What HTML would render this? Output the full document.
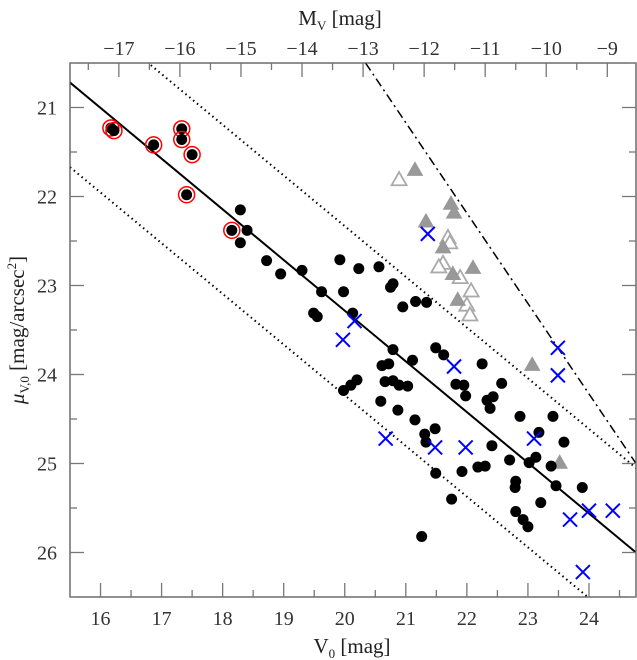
<!DOCTYPE html>
<html><head><meta charset="utf-8">
<style>
html,body{margin:0;padding:0;background:#fff;}
svg{display:block;font-family:"Liberation Serif",serif;}
</style></head>
<body>
<svg id="chart" width="637" height="660" viewBox="0 0 637 660" xmlns="http://www.w3.org/2000/svg">
<text x="340" y="25" font-size="21" text-anchor="middle" fill="#222">M<tspan font-size="13" dy="5">V</tspan><tspan dy="-5"> [mag]</tspan></text>
<text x="352" y="653" font-size="21" text-anchor="middle" fill="#222">V<tspan font-size="13" dy="5">0</tspan><tspan dy="-5"> [mag]</tspan></text>
<text transform="translate(24,330) rotate(-90)" font-size="21" text-anchor="middle" fill="#222"><tspan font-style="italic">μ</tspan><tspan font-size="13" dy="5">V,0</tspan><tspan dy="-5"> [mag/arcsec</tspan><tspan font-size="13" dy="-8">2</tspan><tspan dy="8">]</tspan></text>
</svg>
<script>
const xTicks=[16,17,18,19,20,21,22,23,24];
const yTicks=[21,22,23,24,25,26];
const topTicks=[-17,-16,-15,-14,-13,-12,-11,-10,-9];
const distMod=33.3;
const fitLine=[[15.5,20.72],[24.77,26.0]];
const dotOffset=0.95;
const dashLine=[[20.34,20.5],[24.77,25.0]];
const redV=[16.17,16.22,16.87,17.33,17.33,17.5,17.41,18.15];
const redMu=[21.23,21.26,21.42,21.24,21.36,21.53,21.98,22.38];
const dotV=[18.29,18.29,18.40,18.72,18.95,19.30,19.62,19.49,19.55,19.92,19.98,20.13,20.23,20.56,20.79,20.75,20.95,21.16,21.34,21.49,
20.79,21.62,21.11,20.61,20.72,20.20,20.10,19.98,20.66,20.79,20.89,21.03,20.59,20.87,21.15,21.48,21.31,21.33,22.25,21.82,21.95,21.98,22.33,22.43,22.38,22.57,22.87,23.41,23.18,23.59,22.41,22.70,23.13,23.02,23.38,22.18,22.30,21.92,21.49,22.80,22.79,23.46,23.89,23.21,21.75,22.80,22.92,23.00,21.26];
const dotMu=[22.15,22.52,22.38,22.72,22.87,22.83,23.07,23.31,23.35,22.71,23.07,23.31,22.81,22.79,22.98,23.02,23.24,23.18,23.19,23.70,
23.72,23.78,23.84,23.90,23.88,24.06,24.12,24.18,24.08,24.07,24.12,24.13,24.30,24.40,24.51,24.61,24.67,24.76,23.88,24.11,24.12,24.24,24.29,24.25,24.38,24.10,24.47,24.47,24.65,24.76,24.80,24.96,24.93,24.99,25.03,25.04,25.03,25.09,25.11,25.20,25.27,25.25,25.27,25.44,25.40,25.54,25.63,25.71,25.82];
const crossV=[21.36,20.16,19.97,21.79,23.49,23.49,20.67,21.48,21.98,23.10,23.69,24.0,24.39,23.90];
const crossMu=[22.42,23.40,23.61,23.91,23.70,24.01,24.72,24.82,24.82,24.72,25.63,25.53,25.53,26.22];
const openTriV=[20.89,21.69,21.72,21.61,21.54,21.89,22.07,22.0,22.05];
const openTriMu=[21.81,22.46,22.52,22.75,22.79,22.91,23.06,23.22,23.33];
const fillTriV=[21.15,21.74,21.79,21.33,21.61,21.77,22.1,21.85,23.07,23.52];
const fillTriMu=[21.70,22.08,22.18,22.28,22.57,22.87,22.8,23.16,23.89,24.99];

const NS="http://www.w3.org/2000/svg";
const svg=document.getElementById('chart');
const L=70,R=636,T=63,B=597,V0=15.5,V1=24.77,M0=20.5,M1=26.5;
function X(v){return L+(v-V0)/(V1-V0)*(R-L);}
function Y(m){return T+(m-M0)/(M1-M0)*(B-T);}
function mk(tag,attrs,parent){const e=document.createElementNS(NS,tag);for(const k in attrs)e.setAttribute(k,attrs[k]);(parent||svg).appendChild(e);return e;}

const clip=mk('clipPath',{id:'pc'});mk('rect',{x:L,y:T,width:R-L,height:B-T},clip);
const plot=mk('g',{'clip-path':'url(#pc)'});



function lineBy(p,off,attrs,name){const e=mk('line',Object.assign({x1:X(p[0][0]),y1:Y(p[0][1]+off),x2:X(p[1][0]),y2:Y(p[1][1]+off),fill:'none'},attrs),plot);

}
lineBy(fitLine,0,{stroke:'#000','stroke-width':2},'fit-line');
lineBy(fitLine,-dotOffset,{stroke:'#000','stroke-width':2,'stroke-dasharray':'1.5 3.5'},'upper-scatter-line');
lineBy(fitLine,dotOffset,{stroke:'#000','stroke-width':2,'stroke-dasharray':'1.5 3.5'},'lower-scatter-line');
{const s=(dashLine[1][1]-dashLine[0][1])/(dashLine[1][0]-dashLine[0][0]);
const e=mk('line',{x1:X(dashLine[0][0]),y1:Y(dashLine[0][1]),x2:X(dashLine[1][0]+0.3),y2:Y(dashLine[1][1]+0.3*s),stroke:'#000','stroke-width':1.5,'stroke-dasharray':'9 4 2 4'},plot);

}

function tri(v,m,filled){const x=X(v),y=Y(m),s=7.5;
const e=mk('polygon',{points:`${x},${y-s} ${x-s},${y+s*0.75} ${x+s},${y+s*0.75}`,fill:filled?'#999':'#fff',stroke:filled?'#999':'#aaa','stroke-width':filled?1:1.8},plot);

}
openTriV.forEach((v,i)=>tri(v,openTriMu[i],false));
fillTriV.forEach((v,i)=>tri(v,fillTriMu[i],true));
dotV.forEach((v,i)=>{const e=mk('circle',{cx:X(v),cy:Y(dotMu[i]),r:5.5,fill:'#000'},plot);

});
redV.forEach((v,i)=>{const e=mk('circle',{cx:X(v),cy:Y(redMu[i]),r:5.5,fill:'#000'},plot);


const r=mk('circle',{cx:X(v),cy:Y(redMu[i]),r:8,fill:'none',stroke:'#f00','stroke-width':1.5},plot);

});
crossV.forEach((v,i)=>{const x=X(v),y=Y(crossMu[i]),s=7;
const e=mk('path',{d:`M${x-s},${y-s}L${x+s},${y+s}M${x-s},${y+s}L${x+s},${y-s}`,stroke:'#00f','stroke-width':2,fill:'none'},plot);

});

const fr=mk('rect',{x:L,y:T,width:R-L,height:B-T,fill:'none',stroke:'#555','stroke-width':1.3});


const tk=mk('g',{stroke:'#777','stroke-width':1.3});


for(let v=15.5;v<=24.77;v+=0.5){const maj=Math.abs(v-Math.round(v))<0.01,len=maj?14:7;
mk('line',{x1:X(v),y1:B,x2:X(v),y2:B-len},tk);}
for(let m=20.5;m<=26.5;m+=0.5){const maj=Math.abs(m-Math.round(m))<0.01,len=maj?14:7;
mk('line',{x1:L,y1:Y(m),x2:L+len,y2:Y(m)},tk);mk('line',{x1:R,y1:Y(m),x2:R-len,y2:Y(m)},tk);}
for(let a=-17.5;a<=-8.5;a+=0.5){const v=a+distMod;if(v<V0||v>V1)continue;const maj=Math.abs(a-Math.round(a))<0.01,len=maj?14:7;
mk('line',{x1:X(v),y1:T,x2:X(v),y2:T+len},tk);}
xTicks.forEach(v=>{const t=mk('text',{x:X(v),y:625,'font-size':20,'text-anchor':'middle',fill:'#333'});t.textContent=v;

});
yTicks.forEach(m=>{const t=mk('text',{x:57,y:Y(m)+7,'font-size':20,'text-anchor':'end',fill:'#333'});t.textContent=m;

});
topTicks.forEach(a=>{const t=mk('text',{x:X(a+distMod),y:55,'font-size':20,'text-anchor':'middle',fill:'#333'});t.textContent='\u2212'+Math.abs(a);

});
</script>
</body></html>
